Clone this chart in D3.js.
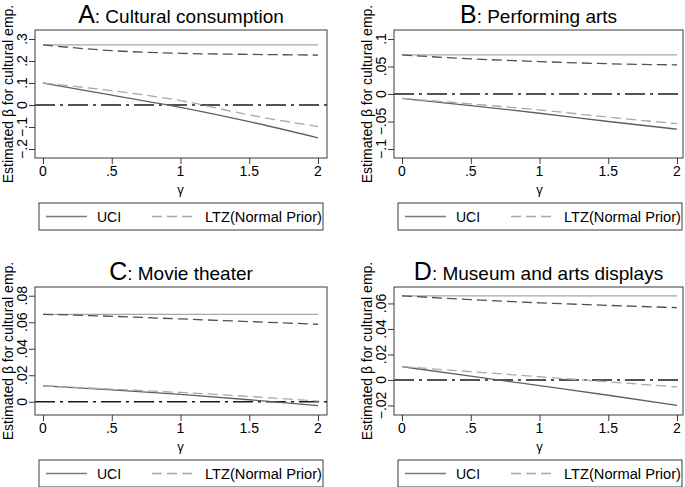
<!DOCTYPE html>
<html>
<head>
<meta charset="utf-8">
<script src="https://cdn.jsdelivr.net/npm/d3@7"></script>
<style>
  html, body { margin: 0; padding: 0; background: #fff; }
  svg { display: block; font-family: "Liberation Sans", Arial, Helvetica, sans-serif; }
</style>
</head>
<body>
<svg id="chart" width="685" height="487"></svg>
<script>
// ---------- data ----------
const gamma = [0, 0.5, 1, 1.5, 2];
const xTicks = [0, 0.5, 1, 1.5, 2];
const xTickLabels = ["0", ".5", "1", "1.5", "2"];

const panelLetters = ["A", "B", "C", "D"];
const panelTitles = [": Cultural consumption", ": Performing arts", ": Movie theater", ": Museum and arts displays"];
const yAxisTitle = "Estimated \u03b2 for cultural emp.";
const xAxisTitle = "\u03b3";
const legendLabels = ["UCI", "LTZ(Normal Prior)"];

// Panel A
const uciUpperA = [0.273, 0.273, 0.273, 0.273, 0.273];
const ltzUpperA = [0.273, 0.247, 0.235, 0.230, 0.227];
const uciLowerA = [0.100, 0.045, -0.011, -0.076, -0.149];
const ltzLowerA = [0.100, 0.065, 0.020, -0.045, -0.098];
const yTicksA = [-0.2, -0.1, 0, 0.1, 0.2, 0.3];
const yTickLabelsA = ["\u2212.2", "\u2212.1", "0", ".1", ".2", ".3"];

// Panel B
const uciUpperB = [0.071, 0.071, 0.071, 0.071, 0.071];
const ltzUpperB = [0.071, 0.064, 0.059, 0.055, 0.053];
const uciLowerB = [-0.008, -0.021, -0.035, -0.050, -0.064];
const ltzLowerB = [-0.008, -0.018, -0.029, -0.042, -0.054];
const yTicksB = [-0.1, -0.05, 0, 0.05, 0.1];
const yTickLabelsB = ["\u2212.1", "\u2212.05", "0", ".05", ".1"];

// Panel C
const uciUpperC = [0.066, 0.066, 0.066, 0.066, 0.066];
const ltzUpperC = [0.066, 0.0645, 0.0625, 0.0605, 0.0585];
const uciLowerC = [0.012, 0.009, 0.0055, 0.0015, -0.003];
const ltzLowerC = [0.012, 0.0095, 0.007, 0.004, 0.0005];
const yTicksC = [0, 0.02, 0.04, 0.06, 0.08];
const yTickLabelsC = ["0", ".02", ".04", ".06", ".08"];

// Panel D
const uciUpperD = [0.066, 0.066, 0.066, 0.066, 0.066];
const ltzUpperD = [0.066, 0.063, 0.0605, 0.0585, 0.0567];
const uciLowerD = [0.0104, 0.003, -0.0045, -0.012, -0.020];
const ltzLowerD = [0.0104, 0.0065, 0.0025, -0.0015, -0.0055];
const yTicksD = [-0.02, 0, 0.02, 0.04, 0.06];
const yTickLabelsD = ["\u2212.02", "0", ".02", ".04", ".06"];

// y-domains (plot region incl. margins)
const yDomainA = [-0.2409, 0.3409];
const yDomainB = [-0.1164, 0.1164];
const yDomainC = [-0.0100, 0.0866];
const yDomainD = [-0.0275, 0.0729];

// ---------- layout ----------
const svg = d3.select("#chart");
const panels = [
  { ox: 0,   oy: 0,   right: 327, series: [uciUpperA, ltzUpperA, uciLowerA, ltzLowerA], yt: yTicksA, ytl: yTickLabelsA, yd: yDomainA },
  { ox: 359, oy: 0,   right: 324, series: [uciUpperB, ltzUpperB, uciLowerB, ltzLowerB], yt: yTicksB, ytl: yTickLabelsB, yd: yDomainB },
  { ox: 0,   oy: 257, right: 327, series: [uciUpperC, ltzUpperC, uciLowerC, ltzLowerC], yt: yTicksC, ytl: yTickLabelsC, yd: yDomainC },
  { ox: 359, oy: 257, right: 324, series: [uciUpperD, ltzUpperD, uciLowerD, ltzLowerD], yt: yTicksD, ytl: yTickLabelsD, yd: yDomainD }
];

const BOX = { x0: 35, y0: 30, y1: 158 };
const seriesStyle = [
  { color: "#a8a8a8", dash: null },      // UCI upper
  { color: "#505050", dash: "10,5" },    // LTZ upper
  { color: "#606060", dash: null },      // UCI lower
  { color: "#a8a8a8", dash: "10,5" }     // LTZ lower
];
const axisColor = "#3a3a3a";

panels.forEach((p, i) => {
  const g = svg.append("g").attr("transform", `translate(${p.ox},${p.oy})`);
  const x = d3.scaleLinear().domain([0, 2]).range([43, 318]);
  const y = d3.scaleLinear().domain(p.yd).range([BOX.y1, BOX.y0]);
  const boxW = p.right - BOX.x0;

  // title
  const cx = (BOX.x0 + p.right) / 2;
  const t = g.append("text").attr("x", cx).attr("y", 23)
    .attr("text-anchor", "middle").attr("fill", "#000");
  t.append("tspan").attr("font-size", 25).text(panelLetters[i]);
  t.append("tspan").attr("font-size", 19).text(panelTitles[i]);

  // zero reference line
  g.append("line")
    .attr("x1", BOX.x0).attr("x2", p.right)
    .attr("y1", y(0)).attr("y2", y(0))
    .attr("stroke", "#1a1a1a").attr("stroke-width", 1.5)
    .attr("stroke-dasharray", "20,5,3,5");

  // series
  const line = d3.line().x((d, k) => x(gamma[k])).y(d => y(d)).curve(d3.curveMonotoneX);
  p.series.forEach((s, k) => {
    g.append("path").datum(s).attr("d", line)
      .attr("fill", "none")
      .attr("stroke", seriesStyle[k].color)
      .attr("stroke-width", 1.3)
      .attr("stroke-dasharray", seriesStyle[k].dash);
  });

  // frame
  g.append("rect").attr("x", BOX.x0).attr("y", BOX.y0)
    .attr("width", boxW).attr("height", BOX.y1 - BOX.y0)
    .attr("fill", "none").attr("stroke", axisColor).attr("stroke-width", 1);

  // y axis ticks & labels
  const yAxis = d3.axisLeft(y).tickValues(p.yt).tickSize(6).tickFormat(() => "");
  const ya = g.append("g").attr("transform", `translate(${BOX.x0},0)`).call(yAxis);
  ya.select(".domain").remove();
  ya.selectAll(".tick line").attr("stroke", axisColor);
  p.yt.forEach((v, k) => {
    g.append("text").attr("transform", `translate(26.5,${y(v)}) rotate(-90)`)
      .attr("text-anchor", "middle").attr("font-size", 14).attr("fill", "#000")
      .text(p.ytl[k]);
  });

  // x axis ticks & labels
  const xAxis = d3.axisBottom(x).tickValues(xTicks).tickSize(6).tickFormat(() => "");
  const xa = g.append("g").attr("transform", `translate(0,${BOX.y1})`).call(xAxis);
  xa.select(".domain").remove();
  xa.selectAll(".tick line").attr("stroke", axisColor);
  xTicks.forEach((v, k) => {
    g.append("text").attr("x", x(v)).attr("y", 176)
      .attr("text-anchor", "middle").attr("font-size", 14).attr("fill", "#000")
      .text(xTickLabels[k]);
  });
  g.append("text").attr("x", x(1)).attr("y", 194)
    .attr("text-anchor", "middle").attr("font-size", 13).attr("fill", "#000")
    .text(xAxisTitle);

  // y axis title
  g.append("text").attr("transform", `translate(13,${(BOX.y0 + BOX.y1) / 2}) rotate(-90)`)
    .attr("text-anchor", "middle").attr("font-size", 14).attr("fill", "#000")
    .text(yAxisTitle);

  // legend
  const lg = g.append("g");
  lg.append("rect").attr("x", 39).attr("y", 203).attr("width", 284).attr("height", 27)
    .attr("fill", "#fff").attr("stroke", axisColor).attr("stroke-width", 1);
  lg.append("line").attr("x1", 46).attr("x2", 87).attr("y1", 216.5).attr("y2", 216.5)
    .attr("stroke", "#7a7a7a").attr("stroke-width", 1.3);
  lg.append("text").attr("x", 97).attr("y", 221.5).attr("font-size", 14).attr("fill", "#000")
    .text(legendLabels[0]);
  lg.append("line").attr("x1", 152).attr("x2", 193).attr("y1", 216.5).attr("y2", 216.5)
    .attr("stroke", "#a8a8a8").attr("stroke-width", 1.3).attr("stroke-dasharray", "10,5");
  lg.append("text").attr("x", 205).attr("y", 221.5).attr("font-size", 14).attr("fill", "#000")
    .attr("textLength", 117).attr("lengthAdjust", "spacingAndGlyphs")
    .text(legendLabels[1]);
});
</script>
</body>
</html>
